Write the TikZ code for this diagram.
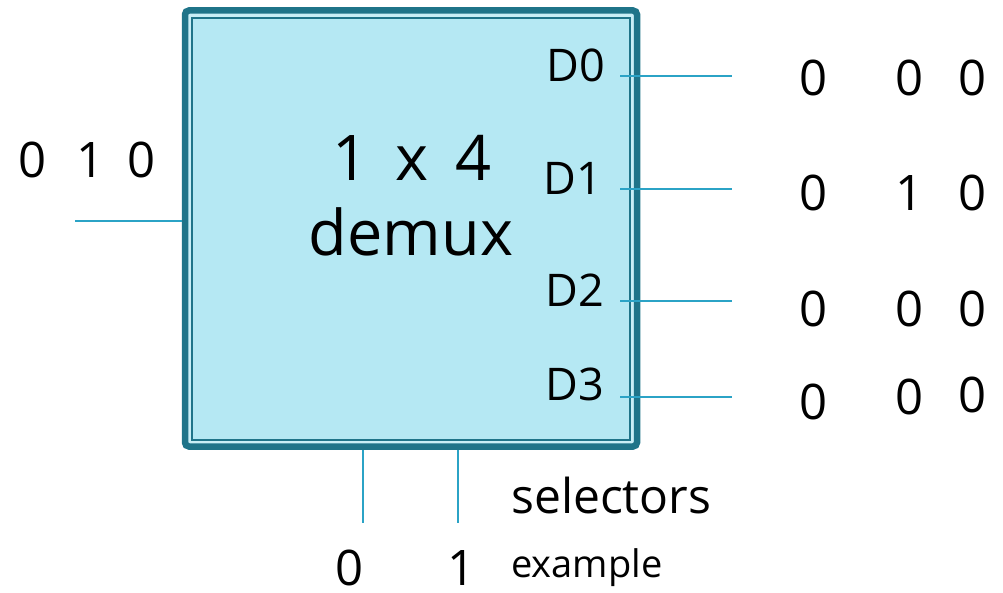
\documentclass[tikz,border=0pt]{standalone}
\usepackage{fontspec}
\setmainfont{Open Sans}
\definecolor{frame}{HTML}{1F7489}
\definecolor{panel}{HTML}{B5E8F3}
\definecolor{gap}{HTML}{C9EEF6}
\definecolor{wire}{HTML}{2BA3C6}
\begin{document}
\begin{tikzpicture}[x=1pt,y=-1pt,
  wireline/.style={draw=wire,line width=2pt},
  bit/.style={inner sep=0pt,font=\fontsize{49}{49}\selectfont},
  port/.style={inner sep=0pt,font=\fontsize{45}{45}\selectfont},
  title/.style={inner sep=0pt,font=\fontsize{63}{63}\selectfont}]
\useasboundingbox (0,0) rectangle (1003,593);
% demux block: thick outer frame, thin inner frame
\node[draw=frame,line width=6.5pt,fill=gap,rounded corners=4pt,
  minimum width=452pt,minimum height=436pt,inner sep=0pt] (box) at (411,228.5) {};
\node[draw=frame,line width=1.8pt,fill=panel,
  minimum width=438pt,minimum height=422pt,inner sep=0pt] (inner) at (411,229) {};
\node[title] (t1) at (412,158) {1\,\ x\,\ 4};
\node[title] (t2) at (411,232) {demux};
% output ports
\node[port] (p0) at (576,65) {D0};
\node[port] (p1) at (573,178) {D1};
\node[port] (p2) at (575,290) {D2};
\node[port] (p3) at (575,384) {D3};
% wires
\coordinate (inA) at (75,221);
\draw[wireline] (inA) -- (inA -| box.west);
\coordinate (o0a) at (620,76);  \coordinate (o0b) at (732,76);
\coordinate (o1a) at (620,189); \coordinate (o1b) at (732,189);
\coordinate (o2a) at (620,301); \coordinate (o2b) at (732,301);
\coordinate (o3a) at (620,397); \coordinate (o3b) at (732,397);
\draw[wireline] (o0a) -- (o0b);
\draw[wireline] (o1a) -- (o1b);
\draw[wireline] (o2a) -- (o2b);
\draw[wireline] (o3a) -- (o3b);
\coordinate (s0) at (363,523);
\coordinate (s1) at (458,523);
\draw[wireline] (s0 |- box.south) -- (s0);
\draw[wireline] (s1 |- box.south) -- (s1);
% input value
\node[bit] (i0) at (33,160) {0};
\node[bit] (i1) at (91,160) {1};
\node[bit] (i2) at (142,160) {0};
% output values
\node[bit] (a0) at (813,78) {0};  \node[bit] (b0) at (909,78) {0};  \node[bit] (c0) at (972,78) {0};
\node[bit] (a1) at (813,193) {0}; \node[bit] (b1) at (909,193) {1}; \node[bit] (c1) at (972,193) {0};
\node[bit] (a2) at (813,309) {0}; \node[bit] (b2) at (909,309) {0}; \node[bit] (c2) at (972,309) {0};
\node[bit] (a3) at (813,402) {0}; \node[bit] (b3) at (909,397) {0}; \node[bit] (c3) at (972,395) {0};
% selector labels
\node[inner sep=0pt,anchor=west,font=\fontsize{48}{48}\selectfont] (sel) at (511,495) {selectors};
\node[bit] (v0) at (350,568) {0};
\node[bit] (v1) at (462,568) {1};
\node[inner sep=0pt,anchor=west,font=\fontsize{38}{38}\selectfont] (ex) at (511,568) {example};
\end{tikzpicture}
\end{document}
